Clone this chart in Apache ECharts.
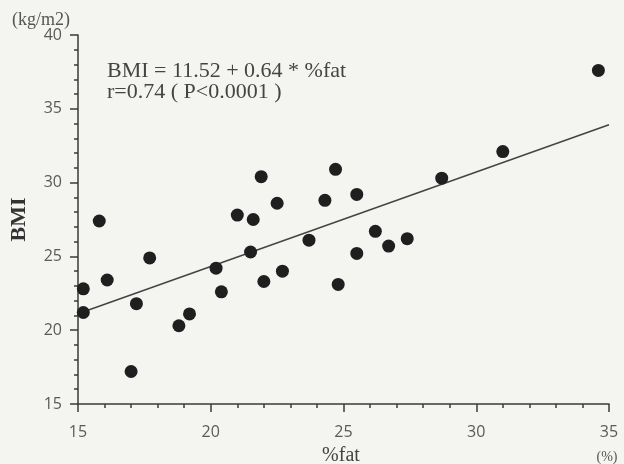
<!DOCTYPE html>
<html>
<head>
<meta charset="utf-8">
<script src="https://cdn.jsdelivr.net/npm/echarts@6/dist/echarts.min.js"></script>
<style>
  html, body { margin: 0; padding: 0; background: #f4f4f1; }
  #main { width: 624px; height: 464px; }
</style>
</head>
<body>
<div id="main"></div>
<script>
// %fat vs BMI
var fatPct = [15.2, 15.2, 15.8, 16.1, 17.0, 17.2, 17.7, 18.8, 19.2, 20.2,
              20.4, 21.0, 21.6, 21.5, 21.9, 22.0, 22.5, 22.7, 23.7, 24.3,
              24.7, 24.8, 25.5, 25.5, 26.2, 26.7, 27.4, 28.7, 31.0, 34.6];
var bmi    = [22.8, 21.2, 27.4, 23.4, 17.2, 21.8, 24.9, 20.3, 21.1, 24.2,
              22.6, 27.8, 27.5, 25.3, 30.4, 23.3, 28.6, 24.0, 26.1, 28.8,
              30.9, 23.1, 29.2, 25.2, 26.7, 25.7, 26.2, 30.3, 32.1, 37.6];
// regression line end points
var fitX = [15, 35];
var fitY = [21.12, 33.92];
var xTicks = [15, 20, 25, 30, 35];
var yTicks = [15, 20, 25, 30, 35, 40];

var points = [];
for (var i = 0; i < fatPct.length; i++) {
    points.push([fatPct[i], bmi[i]]);
}
var fitLine = [];
for (var j = 0; j < fitX.length; j++) {
    fitLine.push([fitX[j], fitY[j]]);
}

var axisCol = '#3a3a3a';
var labelFont = {
    color: '#5a5a5a',
    fontFamily: 'Open Sans',
    fontSize: 16
};
var serif = '"Liberation Serif"';

var myChart = echarts.init(document.getElementById('main'));
var option = {
    backgroundColor: '#f4f4f1',
    animation: false,
    grid: { left: 78, right: 15, top: 35, bottom: 60 },
    xAxis: {
        type: 'value',
        min: xTicks[0],
        max: xTicks[xTicks.length - 1],
        interval: 5,
        axisLine: { show: true, onZero: false, lineStyle: { color: axisCol, width: 1.5 } },
        axisTick: { show: true, length: 8, lineStyle: { color: axisCol, width: 1.5 } },
        minorTick: { show: true, splitNumber: 5, length: 4, lineStyle: { color: axisCol, width: 1.5 } },
        splitLine: { show: false },
        axisLabel: Object.assign({ margin: 20 }, labelFont)
    },
    yAxis: {
        type: 'value',
        min: yTicks[0],
        max: yTicks[yTicks.length - 1],
        interval: 5,
        name: 'BMI',
        nameLocation: 'middle',
        nameRotate: 90,
        nameGap: 48,
        nameTextStyle: { color: '#333', fontFamily: serif, fontWeight: 'bold', fontSize: 22 },
        axisLine: { show: true, onZero: false, lineStyle: { color: axisCol, width: 1.5 } },
        axisTick: { show: true, length: 8, lineStyle: { color: axisCol, width: 1.5 } },
        minorTick: { show: true, splitNumber: 5, length: 4, lineStyle: { color: axisCol, width: 1.5 } },
        splitLine: { show: false },
        axisLabel: Object.assign({ margin: 16 }, labelFont)
    },
    graphic: [
        { type: 'text', x: 12, y: 20,
          style: { text: '(kg/m2)', fill: '#555', font: '18px ' + serif,
                   textVerticalAlign: 'middle' } },
        { type: 'text', x: 341, y: 456,
          style: { text: '%fat', fill: '#444', font: '20px ' + serif,
                   textAlign: 'center', textVerticalAlign: 'middle' } },
        { type: 'text', x: 607, y: 457,
          style: { text: '(%)', fill: '#555', font: '14px ' + serif,
                   textAlign: 'center', textVerticalAlign: 'middle' } },
        { type: 'text', x: 107, y: 71,
          style: { text: 'BMI = 11.52 + 0.64 * %fat', fill: '#444', font: '22px ' + serif,
                   textVerticalAlign: 'middle' } },
        { type: 'text', x: 107, y: 92,
          style: { text: 'r=0.74 ( P<0.0001 )', fill: '#444', font: '22px ' + serif,
                   textVerticalAlign: 'middle' } }
    ],
    series: [
        {
            type: 'line',
            data: fitLine,
            symbol: 'none',
            lineStyle: { color: '#444', width: 1.5 },
            z: 2
        },
        {
            type: 'scatter',
            data: points,
            symbolSize: 13,
            itemStyle: { color: '#1f1f1f', opacity: 1 },
            z: 3
        }
    ]
};
myChart.setOption(option);
</script>
</body>
</html>
